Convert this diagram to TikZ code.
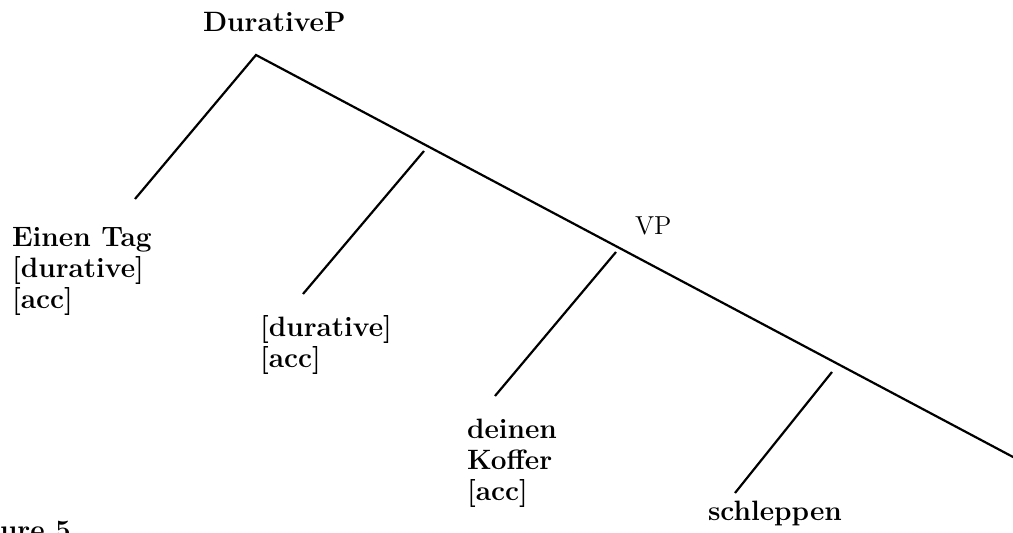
\documentclass[tikz,border=0pt]{standalone}
\begin{document}
\begin{tikzpicture}[x=0.5pt,y=-0.5pt,
  lab/.style={font=\fontsize{14}{15.5}\selectfont\bfseries, inner sep=0pt, outer sep=0pt},
  multi/.style={lab, align=left, anchor=north west},
  cat/.style={font=\fontsize{13}{15}\selectfont, inner sep=0pt, outer sep=0pt, anchor=base west},
  branch/.style={line width=1.1pt, line cap=butt}]
\clip (0,0) rectangle (1013,533);
% tree points
\coordinate (root) at (256,55);
\coordinate (j1) at (424,151);
\coordinate (j2) at (616,252);
\coordinate (j3) at (832,372);
\coordinate (mainend) at (1030,466);
\coordinate (l0) at (135,199);
\coordinate (l1) at (303,294);
\coordinate (l2) at (495,396);
\coordinate (l3) at (735,493);
% labels
\node[lab, anchor=base west] (durp) at (203,32) {DurativeP};
\node[cat] (vp) at (635,235) {VP};
\node[multi] (tag) at (12,227.8) {Einen Tag\\{[durative]}\\{[acc]}};
\node[multi] (dur) at (260,316) {{[durative]}\\{[acc]}};
\node[multi] (koffer) at (467,418.6) {deinen\\Koffer\\{[acc]}};
\node[lab, anchor=base west] (schl) at (708,521) {schleppen};
\node[lab, anchor=base west] (fig) at (0,540) {ure 5};
% branches
\draw[branch] (l0) -- (root) -- (mainend);
\draw[branch] (j1) -- (l1);
\draw[branch] (j2) -- (l2);
\draw[branch] (j3) -- (l3);
\end{tikzpicture}
\end{document}
